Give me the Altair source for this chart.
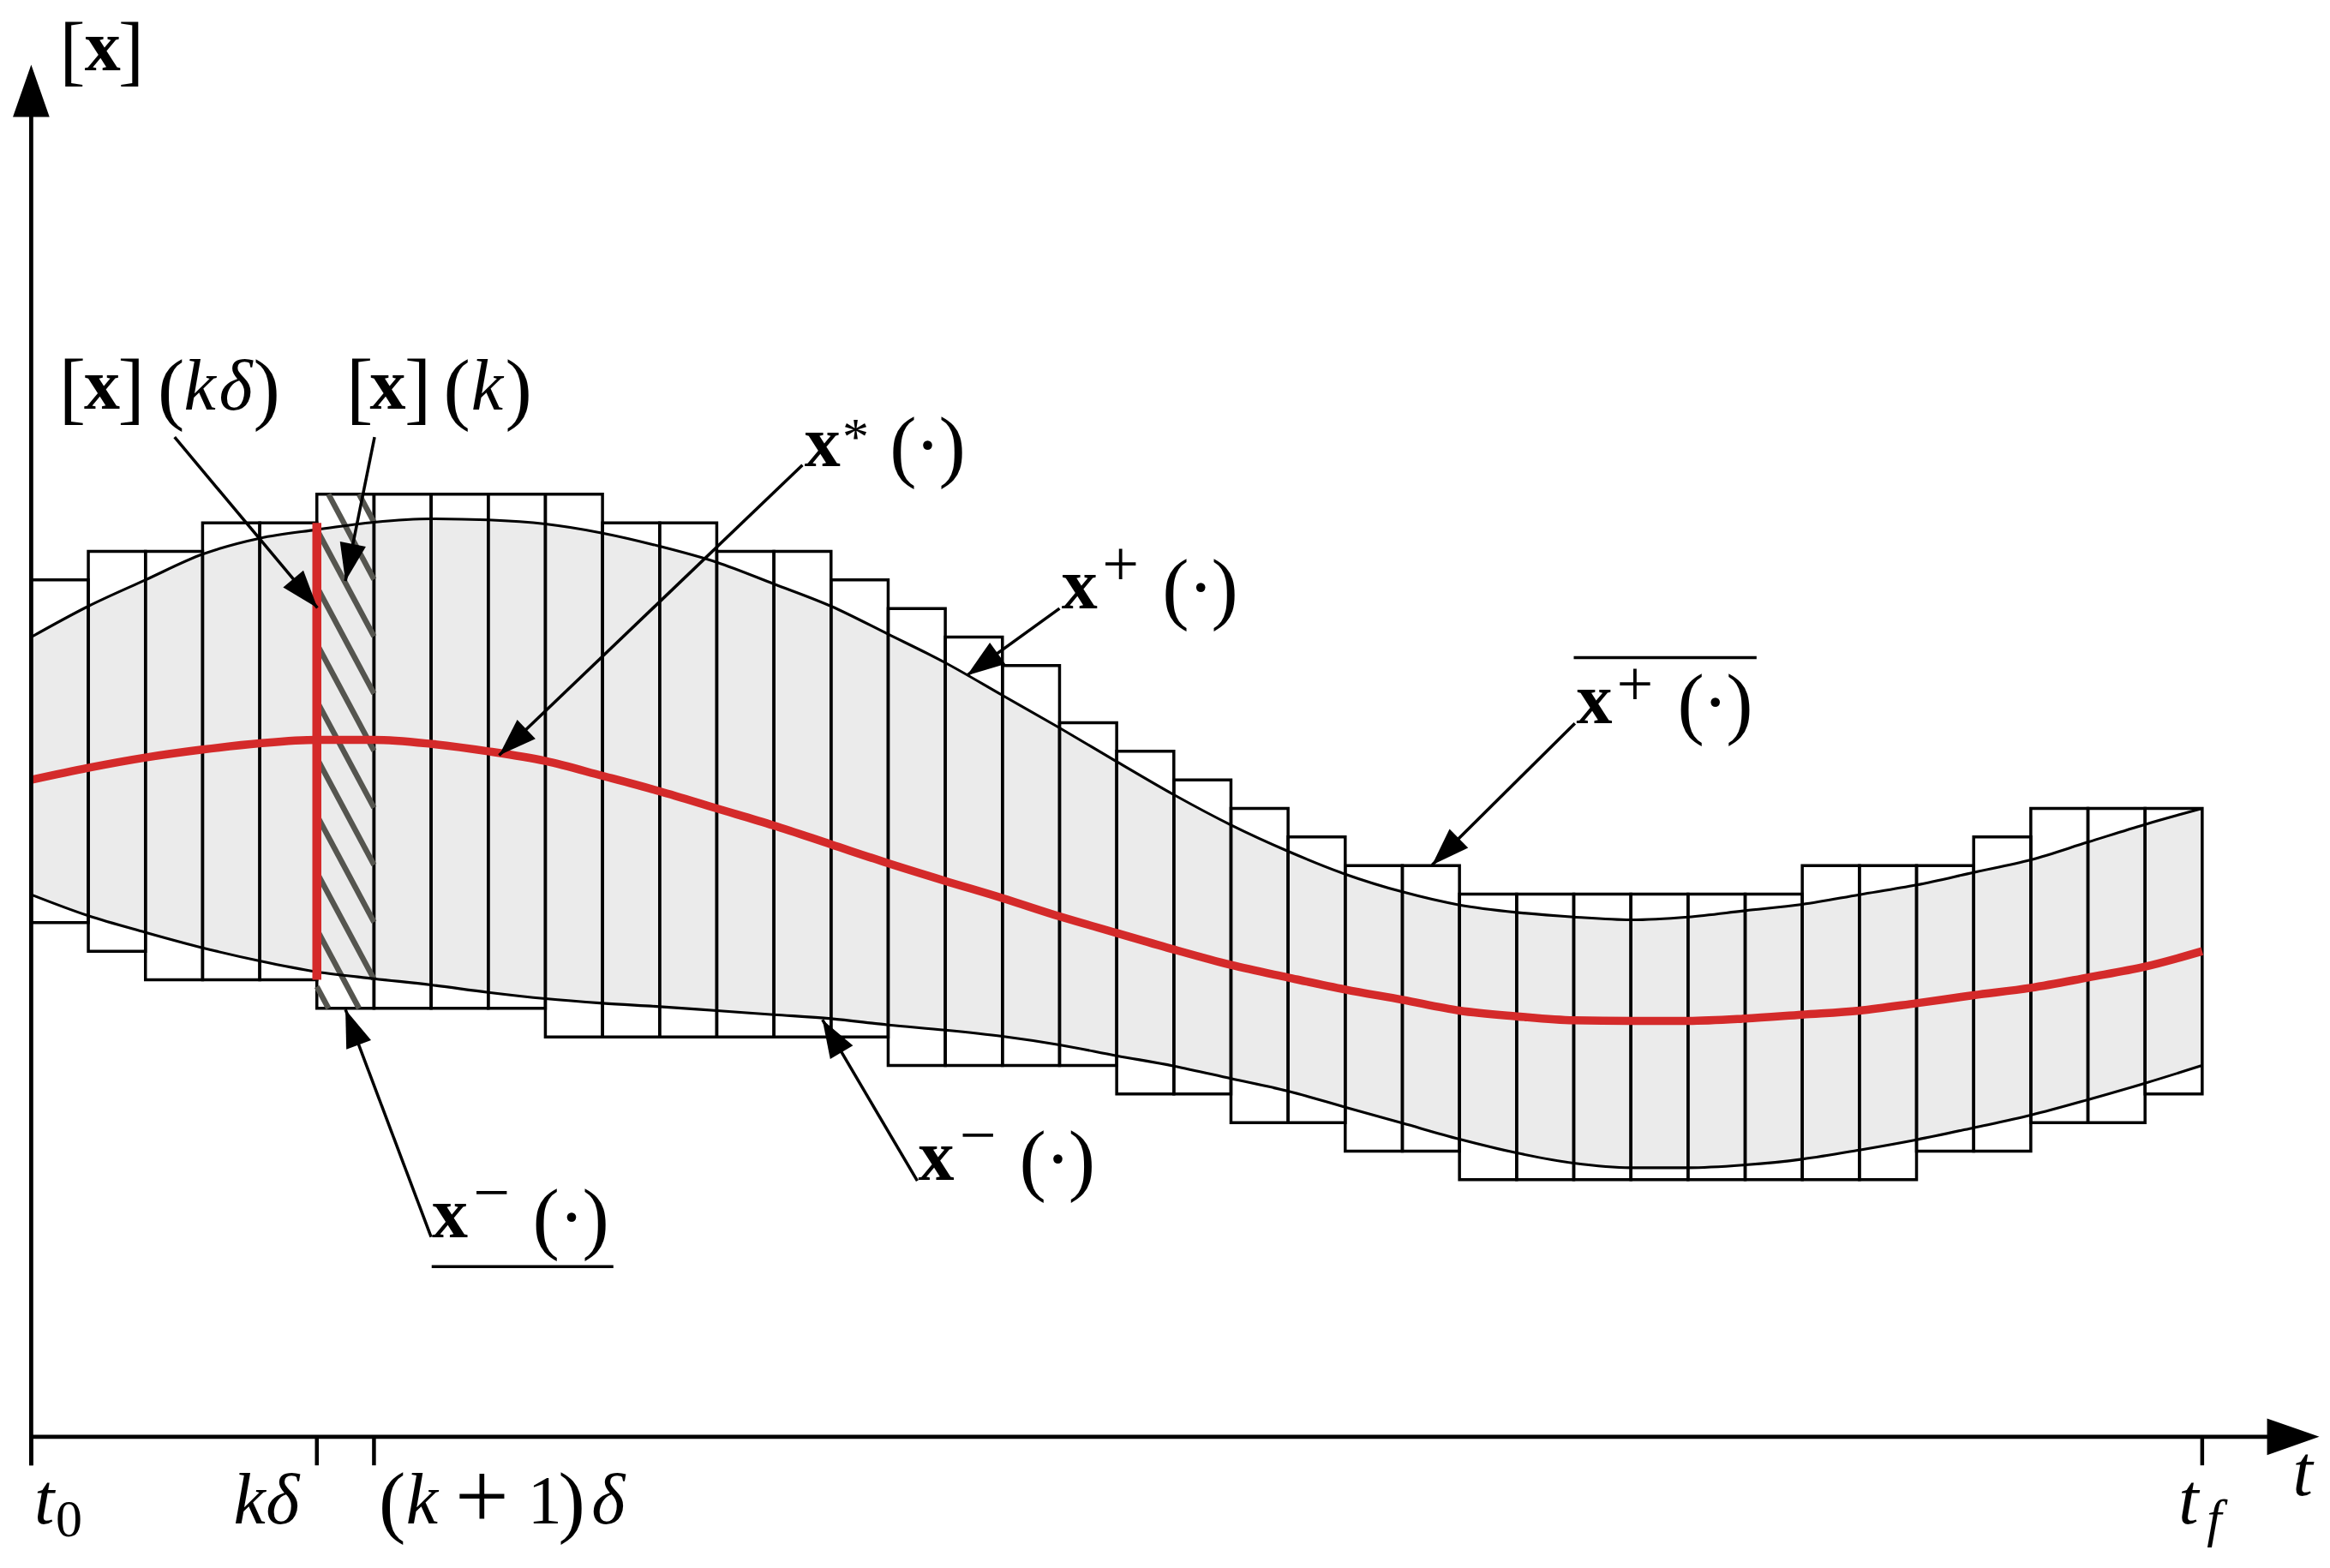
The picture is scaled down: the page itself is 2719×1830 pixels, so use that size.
import math
import altair as alt
import pandas as pd

# ---------------- values ----------------
# time axis in units of the step delta (t0 = 0 ... tf = 38), state axis in the same units
T = list(range(39))
X_UPPER = [14.0, 14.54, 15.0, 15.45, 15.73, 15.88, 16.01, 16.07, 16.05, 15.98,
           15.82, 15.59, 15.31, 14.93, 14.54, 14.05, 13.55, 12.98, 12.41, 11.82,
           11.24, 10.71, 10.25, 9.85, 9.54, 9.31, 9.18, 9.10, 9.05, 9.10,
           9.21, 9.32, 9.49, 9.66, 9.88, 10.10, 10.41, 10.72, 11.0]
X_LOWER = [9.49, 9.12, 8.83, 8.56, 8.33, 8.14, 8.02, 7.91, 7.78, 7.67,
           7.59, 7.53, 7.46, 7.39, 7.32, 7.21, 7.12, 7.01, 6.86, 6.67,
           6.49, 6.27, 6.05, 5.77, 5.49, 5.21, 4.97, 4.79, 4.71, 4.71,
           4.76, 4.86, 5.02, 5.20, 5.41, 5.63, 5.90, 6.19, 6.50]
X_STAR = [11.5, 11.71, 11.89, 12.03, 12.14, 12.2, 12.2, 12.13, 12.0, 11.83,
          11.57, 11.3, 11.0, 10.7, 10.37, 10.04, 9.73, 9.43, 9.11, 8.82,
          8.53, 8.26, 8.04, 7.83, 7.65, 7.46, 7.36, 7.29, 7.28, 7.28,
          7.32, 7.39, 7.46, 7.59, 7.73, 7.86, 8.04, 8.23, 8.5]
BOX_TOP = [15.0, 15.5, 15.5, 16.0, 16.0, 16.5, 16.5, 16.5, 16.5, 16.5,
           16.0, 16.0, 15.5, 15.5, 15.0, 14.5, 14.0, 13.5, 12.5, 12.0,
           11.5, 11.0, 10.5, 10.0, 10.0, 9.5, 9.5, 9.5, 9.5, 9.5,
           9.5, 10.0, 10.0, 10.0, 10.5, 11.0, 11.0, 11.0]
BOX_BOTTOM = [9.0, 8.5, 8.0, 8.0, 8.0, 7.5, 7.5, 7.5, 7.5, 7.0,
              7.0, 7.0, 7.0, 7.0, 7.0, 6.5, 6.5, 6.5, 6.5, 6.0,
              6.0, 5.5, 5.5, 5.0, 5.0, 4.5, 4.5, 4.5, 4.5, 4.5,
              4.5, 4.5, 4.5, 5.0, 5.0, 5.5, 5.5, 6.0]
K = 5                              # hatched box [x](k)
KDELTA_INTERVAL = [8.0, 16.0]      # red interval [x](k delta)
TICKS = [0, 5, 6, 38]

# annotation arrows: (from t, from v, to t, to v)
ARROWS = [
    (2.51, 17.50, 5.01, 14.51),
    (6.01, 17.50, 5.50, 14.98),
    (13.50, 17.01, 8.19, 11.93),
    (18.00, 14.50, 16.38, 13.33),
    (27.02, 12.49, 24.52, 10.01),
    (15.51, 4.48, 13.85, 7.30),
    (7.00, 3.50, 5.50, 7.48),
]
# over / under bars: (t from, t to, v)
BARS = [(27.0, 30.2, 13.64), (7.01, 10.19, 2.98)]

# text pieces: (text, t centre, v, kind, font size)
D = 94   # big delimiter size
PIECES = [
    ("[", 0.72, 24.22, "delim", 90), ("x", 1.25, 23.92, "bold", 84), ("]", 1.75, 24.22, "delim", 90),
    ("t", 39.76, -1.02, "italic", 84),
    ("t", 0.23, -1.52, "italic", 84), ("0", 0.66, -1.74, "roman", 62),
    ("k", 3.82, -1.52, "italic", 84), ("δ", 4.40, -1.52, "italic", 84),
    ("(", 6.32, -1.17, "delim", D), ("k", 6.84, -1.52, "italic", 84),
    ("+", 7.89, -1.60, "roman", 112), ("1", 8.99, -1.52, "roman", 80),
    (")", 9.46, -1.17, "delim", D), ("δ", 10.10, -1.52, "italic", 84),
    ("t", 37.76, -1.52, "italic", 84), ("f", 38.21, -1.74, "italic", 62),
    # [x](k delta)
    ("[", 0.72, 18.31, "delim", D), ("x", 1.24, 18.0, "bold", 84), ("]", 1.75, 18.31, "delim", D),
    ("(", 2.45, 18.31, "delim", D), ("k", 2.95, 17.98, "italic", 84), ("δ", 3.58, 17.98, "italic", 84),
    (")", 4.12, 18.31, "delim", D),
    # [x](k)
    ("[", 5.75, 18.31, "delim", D), ("x", 6.24, 18.0, "bold", 84), ("]", 6.77, 18.31, "delim", D),
    ("(", 7.45, 18.31, "delim", D), ("k", 7.98, 17.98, "italic", 84), (")", 8.53, 18.31, "delim", D),
    # x*(.)
    ("x", 13.85, 16.99, "bold", 84), ("*", 14.43, 17.20, "roman", 62),
    ("(", 15.26, 17.30, "delim", D), ("·", 15.69, 17.30, "delim", 90), (")", 16.12, 17.30, "delim", D),
    # x+(.)
    ("x", 18.35, 14.50, "bold", 84), ("+", 19.07, 14.90, "roman", 76),
    ("(", 20.03, 14.81, "delim", D), ("·", 20.47, 14.81, "delim", 90), (")", 20.89, 14.81, "delim", D),
    # overline x+(.)
    ("x", 27.36, 12.49, "bold", 84), ("+", 28.07, 12.81, "roman", 76),
    ("(", 29.05, 12.81, "delim", D), ("·", 29.48, 12.81, "delim", 90), (")", 29.90, 12.81, "delim", D),
    # x-(.)
    ("x", 15.84, 4.50, "bold", 84), ("−", 16.57, 4.90, "roman", 76),
    ("(", 17.53, 4.81, "delim", D), ("·", 17.97, 4.81, "delim", 90), (")", 18.39, 4.81, "delim", D),
    # underline x-(.)
    ("x", 7.33, 3.49, "bold", 84), ("−", 8.06, 3.90, "roman", 76),
    ("(", 9.01, 3.80, "delim", D), ("·", 9.46, 3.80, "delim", 90), (")", 9.88, 3.80, "delim", D),
]

# ---------------- styling ----------------
RED = "#D42A2A"
FILL = "#EBEBEB"
HATCH = "#55554F"
FONT = "Liberation Serif"
HEAD = "M0,0L0.35,1L-0.35,1Z"
HATCH_FIRST, HATCH_SLOPE = 17.88, 1.87

XS = alt.Scale(domain=[-0.426, 40.117], nice=False, zero=False)
YS = alt.Scale(domain=[-2.147, 25.032], nice=False, zero=False)


def X(f):
    return alt.X(f, type="quantitative", scale=XS, axis=None)


def Y(f):
    return alt.Y(f, type="quantitative", scale=YS, axis=None)


curve_df = pd.DataFrame({"t": T, "hi": X_UPPER, "lo": X_LOWER, "mid": X_STAR})
box_df = pd.DataFrame({"t0": T[:-1], "t1": T[1:], "bot": BOX_BOTTOM, "top": BOX_TOP})

# hatch segments clipped to box K
hb, ht = BOX_BOTTOM[K], BOX_TOP[K]
hatch_rows = []
c = HATCH_FIRST
while c > hb - 0.001:
    ta = max(K, K + (c - ht) / HATCH_SLOPE)
    tb = min(K + 1, K + (c - hb) / HATCH_SLOPE)
    if tb > ta:
        hatch_rows.append({"t0": ta, "v0": c - HATCH_SLOPE * (ta - K),
                           "t1": tb, "v1": c - HATCH_SLOPE * (tb - K)})
    c -= 1.0
hatch_df = pd.DataFrame(hatch_rows)

arrow_df = pd.DataFrame([
    {"t0": a, "v0": b, "t1": cc, "v1": d,
     "ang": math.degrees(math.atan2(cc - a, d - b)) % 360}
    for a, b, cc, d in ARROWS])

bar_df = pd.DataFrame([{"t0": a, "t1": b, "v": v} for a, b, v in BARS])
red_df = pd.DataFrame({"t": [K], "lo": [KDELTA_INTERVAL[0]], "hi": [KDELTA_INTERVAL[1]]})

axis_df = pd.DataFrame([
    {"t0": 0, "v0": -0.5, "t1": 0, "v1": 23.5},
    {"t0": 0, "v0": 0, "t1": 39.5, "v1": 0},
])
tick_df = pd.DataFrame({"t": TICKS, "v0": [0] * len(TICKS), "v1": [-0.5] * len(TICKS)})
axhead_df = pd.DataFrame({"t": [0, 40.05], "v": [24.02, 0], "ang": [0, 90]})

text_df = pd.DataFrame(PIECES, columns=["txt", "t", "v", "kind", "size"])

tube = alt.Chart(curve_df).mark_area(interpolate="monotone", color=FILL).encode(
    x=X("t"), y=Y("lo"), y2=alt.Y2("hi"))
boxes = alt.Chart(box_df).mark_rect(fillOpacity=0, stroke="black", strokeWidth=3.5).encode(
    x=X("t0"), x2=alt.X2("t1"), y=Y("bot"), y2=alt.Y2("top"))
hatch = alt.Chart(hatch_df).mark_rule(color=HATCH, strokeWidth=6.5, strokeCap="butt").encode(
    x=X("t0"), y=Y("v0"), x2=alt.X2("t1"), y2=alt.Y2("v1"))
upper = alt.Chart(curve_df).mark_line(interpolate="monotone", color="black", strokeWidth=3.1).encode(
    x=X("t"), y=Y("hi"))
lower = alt.Chart(curve_df).mark_line(interpolate="monotone", color="black", strokeWidth=3.1).encode(
    x=X("t"), y=Y("lo"))
star = alt.Chart(curve_df).mark_line(interpolate="monotone", color=RED, strokeWidth=9.5).encode(
    x=X("t"), y=Y("mid"))
redv = alt.Chart(red_df).mark_rule(color=RED, strokeWidth=10.5, strokeCap="butt").encode(
    x=X("t"), y=Y("lo"), y2=alt.Y2("hi"))
arrows = alt.Chart(arrow_df).mark_rule(color="black", strokeWidth=3.5).encode(
    x=X("t0"), y=Y("v0"), x2=alt.X2("t1"), y2=alt.Y2("v1"))
heads = alt.Chart(arrow_df).mark_point(shape=HEAD, filled=True, color="black", opacity=1,
                                       size=7744, strokeWidth=0).encode(
    x=X("t1"), y=Y("v1"), angle=alt.Angle("ang:Q", scale=None))
bars = alt.Chart(bar_df).mark_rule(color="black", strokeWidth=3.5).encode(
    x=X("t0"), x2=alt.X2("t1"), y=Y("v"))
axes = alt.Chart(axis_df).mark_rule(color="black", strokeWidth=4.8).encode(
    x=X("t0"), y=Y("v0"), x2=alt.X2("t1"), y2=alt.Y2("v1"))
ticks = alt.Chart(tick_df).mark_rule(color="black", strokeWidth=4.5).encode(
    x=X("t"), y=Y("v0"), y2=alt.Y2("v1"))
axheads = alt.Chart(axhead_df).mark_point(shape=HEAD, filled=True, color="black", opacity=1,
                                          size=14884, strokeWidth=0).encode(
    x=X("t"), y=Y("v"), angle=alt.Angle("ang:Q", scale=None))


def text_layer(kind, **kw):
    return alt.Chart(text_df).transform_filter(alt.datum.kind == kind).mark_text(
        font=FONT, color="black", align="center", **kw).encode(
        x=X("t"), y=Y("v"), text="txt:N", size=alt.Size("size:Q", scale=None))


t_bold = text_layer("bold", fontWeight="bold", baseline="alphabetic")
t_ital = text_layer("italic", fontStyle="italic", baseline="alphabetic")
t_rom = text_layer("roman", baseline="alphabetic")
t_del = text_layer("delim", baseline="middle")

chart = alt.layer(
    tube, boxes, hatch, upper, lower, star, redv, arrows, heads, bars,
    axes, ticks, axheads, t_bold, t_ital, t_rom, t_del
).properties(
    width=2703, height=1812, padding=0,
    autosize=alt.AutoSizeParams(type="none"),
).configure_view(stroke=None)

chart.save("out.html", embed_options={"renderer": "svg", "actions": False})
